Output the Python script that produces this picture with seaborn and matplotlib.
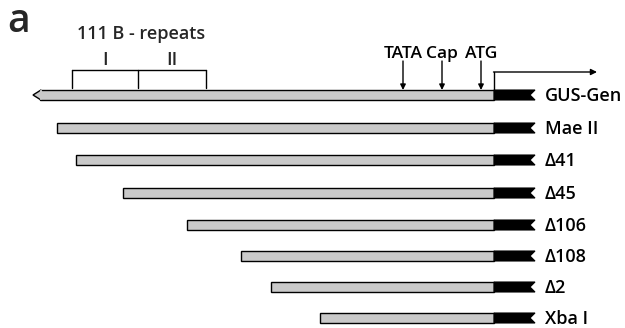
import matplotlib
matplotlib.use("Agg")
import matplotlib.pyplot as plt
from matplotlib.patches import Polygon
import seaborn as sns
import pandas as pd

sns.set_theme(style="white")
plt.rcParams["font.family"] = ["Open Sans", "DejaVu Sans"]

# Promoter-GUS constructs: name and 5' start position (drawing units)
constructs = ["GUS-Gen", "Mae II", "\u039441", "\u039445", "\u0394106", "\u0394108", "\u03942", "Xba I"]
starts = [40, 57, 76, 123, 187, 241, 271, 320]
rows = [95, 128, 160, 193, 225, 256, 287, 318]

gus_start = 494      # start of GUS coding region
gus_end = 535        # end of drawn GUS segment

# promoter landmarks
site_labels = ["TATA", "Cap", "ATG"]
site_pos = [403, 442, 481]

# 111 B repeat brackets
repeat_labels = ["I", "II"]
repeat_bounds = [72, 138, 206]

df = pd.DataFrame({"construct": constructs, "start": starts, "row": rows})
df["width"] = gus_start - df["start"]

fig = plt.figure(figsize=(6.25, 3.28), dpi=100)
ax = fig.add_axes([0, 0, 1, 1])
ax.set_xlim(0, 625)
ax.set_ylim(328, 0)
ax.axis("off")

h = 10
gray = "#c9c9c9"
fs = 13
fw = "semibold"
ax.barh(df["row"], df["width"], left=df["start"], height=h, color=gray,
        edgecolor="black", linewidth=1.0, zorder=2)

for _, r in df.iterrows():
    y = r["row"]
    top, bot = y - h / 2, y + h / 2
    ax.add_patch(Polygon([(gus_start, top), (gus_end, top), (gus_end - 5, y),
                          (gus_end, bot), (gus_start, bot)], closed=True,
                         facecolor="black", edgecolor="black", lw=0.8, zorder=3))
    ax.text(gus_end + 10, y + 6, r["construct"], fontsize=fs, fontweight=fw,
            va="baseline", ha="left", color="black")

# pointed 5' end of the full-length construct
y0 = rows[0]
ax.add_patch(Polygon([(starts[0] + 1, y0 - h / 2), (starts[0] - 7, y0), (starts[0] + 1, y0 + h / 2)],
                     closed=True, facecolor=gray, edgecolor="black", lw=1.0, zorder=4))
ax.plot([starts[0] + 1, starts[0] + 1], [y0 - h / 2 + 0.6, y0 + h / 2 - 0.6], color=gray, lw=1.6, zorder=5)

# landmark arrows
for lab, x in zip(site_labels, site_pos):
    ax.annotate("", xy=(x, y0 - h / 2), xytext=(x, 61),
                arrowprops=dict(arrowstyle="-|>", color="black", lw=1.0,
                                mutation_scale=8, shrinkA=0, shrinkB=0))
    ax.text(x, 58, lab, fontsize=12.5, fontweight=fw, ha="center", va="baseline", color="black")

# transcription start arrow
ax.plot([gus_start, gus_start], [y0 - h / 2, 72], color="black", lw=1.0)
ax.annotate("", xy=(597, 72), xytext=(gus_start - 0.5, 72),
            arrowprops=dict(arrowstyle="-|>", color="black", lw=1.0,
                            mutation_scale=9, shrinkA=0, shrinkB=0))

# repeat brackets
ax.plot([repeat_bounds[0], repeat_bounds[-1]], [70, 70], color="black", lw=1.0)
for x in repeat_bounds:
    ax.plot([x, x], [70, 88], color="black", lw=1.0)
for lab, a, b in zip(repeat_labels, repeat_bounds[:-1], repeat_bounds[1:]):
    ax.text((a + b) / 2, 65, lab, fontsize=fs, fontweight=fw, ha="center", va="baseline")
ax.text(141, 39, "111 B - repeats", fontsize=fs, fontweight=fw, ha="center", va="baseline")

ax.text(7, 32, "a", fontsize=28, fontweight="semibold", ha="left", va="baseline")

fig.savefig("out.png", dpi=100)
